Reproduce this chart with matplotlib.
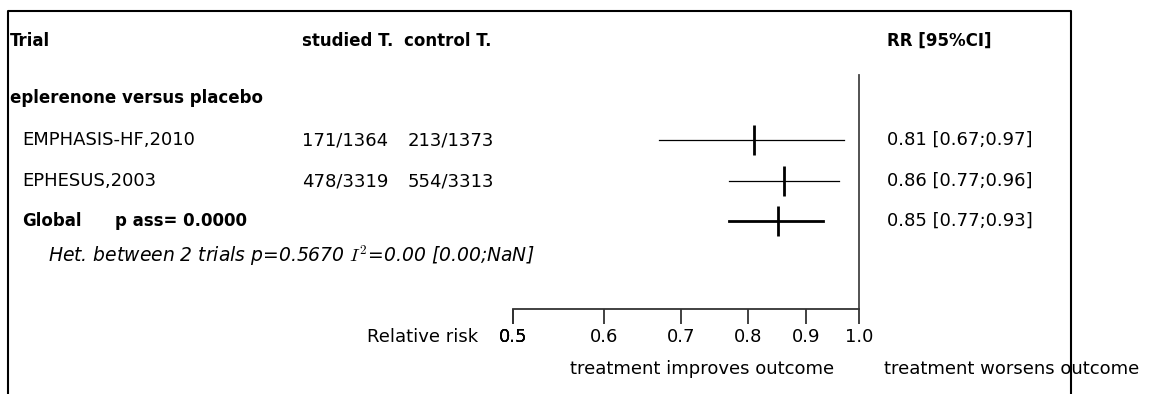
import numpy as np
import matplotlib
matplotlib.use('Agg')
import matplotlib.pyplot as plt
from matplotlib import transforms
from matplotlib.lines import Line2D
from matplotlib.ticker import FixedLocator, NullLocator

plt.rcParams['font.family'] = 'DejaVu Sans'
plt.rcParams['mathtext.fontset'] = 'cm'

# Trial data
trials = ['EMPHASIS-HF,2010', 'EPHESUS,2003']
studied = ['171/1364', '478/3319']
control = ['213/1373', '554/3313']
rr = [0.81, 0.86]
lo = [0.67, 0.77]
hi = [0.97, 0.96]
g_rr, g_lo, g_hi = 0.85, 0.77, 0.93
p_ass = '0.0000'
het_text = 'Het. between 2 trials p=0.5670 $I^2$=0.00 [0.00;NaN]'
group = 'eplerenone versus placebo'
tick_vals = [0.3, 0.4, 0.5, 0.6, 0.7, 0.8, 0.9, 1.0]
x_min, x_max = 0.5, 1.0

W, H = 1153, 394
fig = plt.figure(figsize=(W / 100, H / 100), dpi=100)

# row layout (pixel rows from top)
Y_HEAD, Y_GROUP, Y_T = 41, 98, [140, 181]
Y_GLOBAL, Y_HET = 221, 256
Y_AXIS, Y_TOP, Y_REF = 309, 11, 75
X_LEFT, X_RIGHT = 513, 859

ax = fig.add_axes([X_LEFT / W, 1 - Y_AXIS / H, (X_RIGHT - X_LEFT) / W, (Y_AXIS - Y_TOP) / H])
ax.set_xscale('log')
ax.set_xlim(x_min, x_max)
ax.set_ylim(Y_AXIS, Y_TOP)
for s in ['top', 'left', 'right']:
    ax.spines[s].set_visible(False)
ax.spines['bottom'].set_color('#333333')
ax.spines['bottom'].set_linewidth(1.3)
ax.yaxis.set_visible(False)
ax.patch.set_visible(False)

# ticks below 0.5 are pinned to the axis start
tick_pos = [max(v, x_min) for v in tick_vals]
ax.xaxis.set_major_locator(FixedLocator(tick_pos))
ax.xaxis.set_minor_locator(NullLocator())
ax.set_xticklabels([f'{v:.1f}' for v in tick_vals], fontsize=13)
ax.tick_params(axis='x', direction='out', length=11, width=1.3, color='#333333', pad=3)

# reference line at RR = 1
ax.plot([1.0, 1.0], [Y_REF, Y_AXIS], color='#444444', lw=1.3, clip_on=False)

# individual trials
for r, l, h, y in zip(rr, lo, hi, Y_T):
    ax.plot([l, h], [y, y], color='black', lw=0.9, clip_on=False)
    ax.plot([r], [y], marker='|', ms=21, mew=2, color='black', clip_on=False)

# pooled estimate
ax.plot([g_lo, g_hi], [Y_GLOBAL, Y_GLOBAL], color='black', lw=2, clip_on=False)
ax.plot([g_rr], [Y_GLOBAL], marker='|', ms=21, mew=2, color='black', clip_on=False)

# text columns: x in figure fraction, y in row units
tr = transforms.blended_transform_factory(fig.transFigure, ax.transData)
fs = 13
fs_b = 12


def put(xpx, y, s, **kw):
    kw.setdefault('fontsize', fs)
    fig.text(xpx / W, y, s, transform=tr, va='center', ha='left', **kw)


put(10, Y_HEAD, 'Trial', fontweight='bold', fontsize=fs_b)
put(302, Y_HEAD, 'studied T.', fontweight='bold', fontsize=fs_b)
put(404, Y_HEAD, 'control T.', fontweight='bold', fontsize=fs_b)
put(887, Y_HEAD, 'RR [95%CI]', fontweight='bold', fontsize=fs_b)
put(10, Y_GROUP, group, fontweight='bold', fontsize=fs_b)
for name, s, c, r, l, h, y in zip(trials, studied, control, rr, lo, hi, Y_T):
    put(22, y, name)
    put(302, y, s)
    put(408, y, c)
    put(887, y, f'{r:.2f} [{l:.2f};{h:.2f}]')
put(22, Y_GLOBAL, 'Global', fontweight='bold', fontsize=fs_b)
put(115, Y_GLOBAL, f'p ass= {p_ass}', fontweight='bold', fontsize=fs_b)
put(887, Y_GLOBAL, f'{g_rr:.2f} [{g_lo:.2f};{g_hi:.2f}]')
put(48, Y_HET, het_text, fontstyle='italic', fontsize=13.5)

# axis captions
fig.text(478 / W, 1 - 337 / H, 'Relative risk', ha='right', va='center', fontsize=fs)
fig.text(702 / W, 1 - 369 / H, 'treatment improves outcome', ha='center', va='center', fontsize=fs)
fig.text(1012 / W, 1 - 369 / H, 'treatment worsens outcome', ha='center', va='center', fontsize=fs)

# open frame around the table
frame_x = [8 / W, 8 / W, 1071 / W, 1071 / W]
frame_y = [0, 1 - Y_TOP / H, 1 - Y_TOP / H, 0]
fig.add_artist(Line2D(frame_x, frame_y, transform=fig.transFigure, color='black', lw=1.5))

fig.savefig('out.png', dpi=100)
